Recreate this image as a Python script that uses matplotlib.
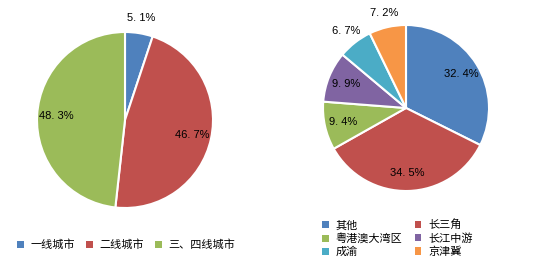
import numpy as np
import matplotlib
matplotlib.use("Agg")
import matplotlib.pyplot as plt
from matplotlib.patches import Patch

plt.rcParams['font.family'] = ['Noto Sans CJK SC', 'DejaVu Sans']

# left pie: city tiers
tier_names = ['一线城市', '二线城市', '三、四线城市']
tier_share = [5.1, 46.7, 48.3]
tier_colors = ['#4F81BD', '#C0504D', '#9BBB59']

# right pie: regions
region_names = ['其他', '长三角', '粤港澳大湾区', '长江中游', '成渝', '京津冀']
region_share = [32.4, 34.5, 9.4, 9.9, 6.7, 7.2]
region_colors = ['#4F81BD', '#C0504D', '#9BBB59', '#8064A2', '#4BACC6', '#F79646']

W, H = 547, 267
fig = plt.figure(figsize=(W / 100, H / 100), dpi=100)


def fmt(v):
    s = '%.1f' % v
    return s.replace('.', '. ') + '%'


def draw_pie(ax, vals, colors):
    wedges, _ = ax.pie(vals, colors=colors, startangle=90, counterclock=False,
                       wedgeprops=dict(edgecolor='white', linewidth=1.5))
    ax.set_xlim(-1, 1)
    ax.set_ylim(-1, 1)
    ax.set_aspect('equal')
    for w, v in zip(wedges, vals):
        ang = np.deg2rad((w.theta1 + w.theta2) / 2)
        d = 1.17 if v < 8 else 0.78
        ax.text(d * np.cos(ang), d * np.sin(ang), fmt(v), ha='center', va='center',
                fontsize=8, family=['Liberation Sans', 'DejaVu Sans'], clip_on=False)
    return wedges


# left pie
r1 = 88
ax1 = fig.add_axes([(125 - r1) / W, (H - 120 - r1) / H, 2 * r1 / W, 2 * r1 / H])
draw_pie(ax1, tier_share, tier_colors)

# right pie
r2 = 83
ax2 = fig.add_axes([(406 - r2) / W, (H - 108 - r2) / H, 2 * r2 / W, 2 * r2 / H])
draw_pie(ax2, region_share, region_colors)

leg_kw = dict(frameon=False, fontsize=8, handlelength=0.6, handleheight=0.6,
              handletextpad=0.6, borderaxespad=0)

h1 = [Patch(facecolor=c) for c in tier_colors]
fig.legend(h1, tier_names, ncol=3, loc='center', bbox_to_anchor=(126 / W, 1 - 245 / H),
           columnspacing=1.0, **leg_kw)

# row-wise order for the two-column legend
order = [0, 2, 4, 1, 3, 5]
h2 = [Patch(facecolor=region_colors[i]) for i in order]
fig.legend(h2, [region_names[i] for i in order], ncol=2, loc='upper left',
           bbox_to_anchor=(318 / W, 1 - 215 / H),
           columnspacing=1.1, labelspacing=0.25, **leg_kw)

fig.savefig('out.png', dpi=100)
